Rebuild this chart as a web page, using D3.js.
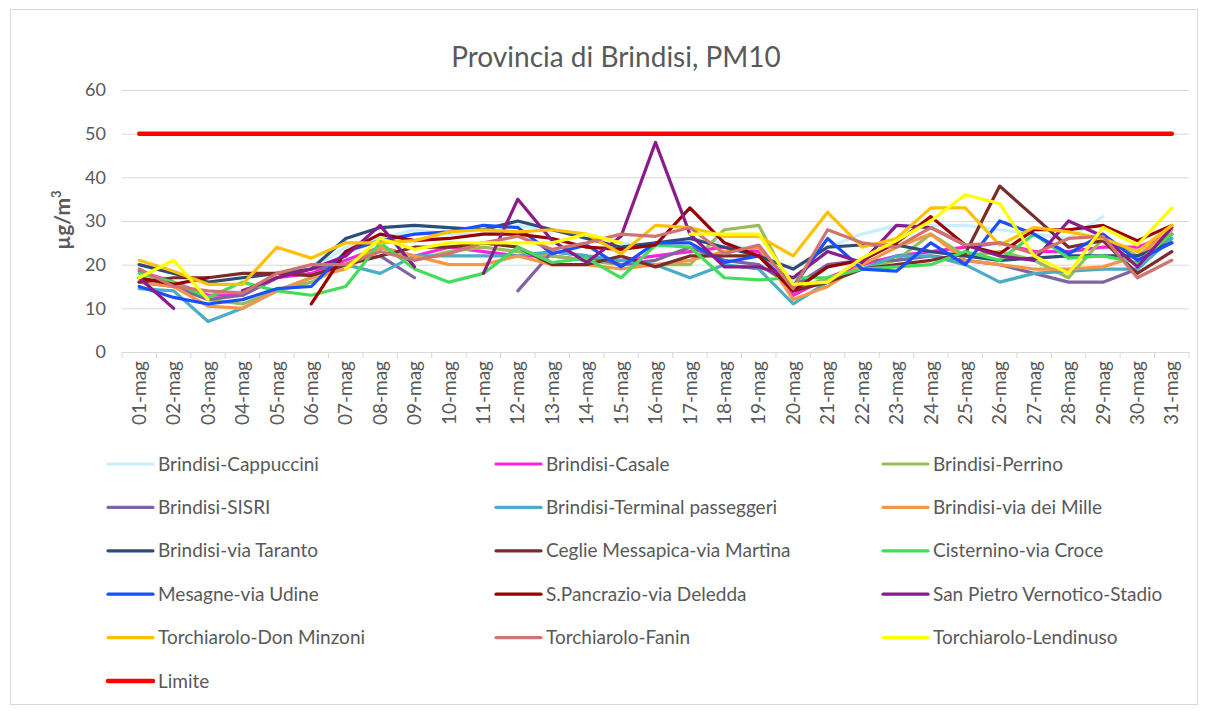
<!DOCTYPE html>
<html>
<head>
<meta charset="utf-8">
<script src="https://cdn.jsdelivr.net/npm/d3@7"></script>
<style>
  body { margin: 0; background: #fff; }
  text { font-family: Lato, 'Open Sans', sans-serif; fill: #595959; }
</style>
</head>
<body>
<div id="chart"></div>
<script>
var days = []
for (var k = 1; k <= 31; k++) days.push((k < 10 ? '0' + k : '' + k) + '-mag')

var seriesNames = [
  'Brindisi-Cappuccini', 'Brindisi-Casale', 'Brindisi-Perrino',
  'Brindisi-SISRI', 'Brindisi-Terminal passeggeri', 'Brindisi-via dei Mille',
  'Brindisi-via Taranto', 'Ceglie Messapica-via Martina', 'Cisternino-via Croce',
  'Mesagne-via Udine', 'S.Pancrazio-via Deledda', 'San Pietro Vernotico-Stadio',
  'Torchiarolo-Don Minzoni', 'Torchiarolo-Fanin', 'Torchiarolo-Lendinuso', 'Limite'
]
var seriesColors = [
  '#c9efff', '#ff22dd', '#9bbb59',
  '#8064a2', '#4bacc6', '#f79646',
  '#2c4d7a', '#7b2c2a', '#44dd5a',
  '#1a4fff', '#990000', '#8b1a8b',
  '#ffc000', '#d07470', '#ffff00', '#ff0000'
]

var cappuccini = [17, 15, 13, 14, 17, 19, 24, 26, 28, 27, 27, 29, 28, 27, 25, 24, 26, 25, 23, 16, 24, 27, 29, 29, 29, 28, 27, 26, 31, null, null]
var casale = [18.5, 16, 13, 13, 17, 18, 21, 24, 22, 24, 23, 22, 22, 21, 21, 22, 23, 24, 23, 13, 17, 20, 22, 23, 24, 25, 23, 23, 24, 24, 27]
var perrino = [16, 15, 12, 11, 14, 16, 20, 24, 21, 23, 24, 23, 22, 21, 20, 20, 20, 28, 29, 14, 17, 19, 21, 27, 22, 23, 21, 17, 26, 22, 26]
var sisri = [16, 15, 12, 13, 17, 19, 20, 22, 17, null, null, 14, 23, 22, 20, 21, 24, 21, 20, 15, 20, 21, 21, 22, 21, 20, 18, 16, 16, 19, 27]
var terminal = [14.5, 14, 7, 10, 14, 17, 20, 18, 22, 22, 22, 22, 23, 22, 21, 20, 17, 20, 19, 11, 16, 19, 22, 22, 20, 16, 18, 18.5, 19, 19, 26]
var viaMille = [16, 15, 10.5, 10, 14, 17, 19, 24, 22, 20, 20, 22, 20, 20, 19, 20, 21, 23, 24, 12, 15, 20, 24, 27, 21, 20, 19, 19, 19.5, 22, 28]
var viaTaranto = [20, 18, 16, 17, 18, 19, 26, 28.5, 29, 28.5, 28, 30, 28, 26, 24, 25, 26, 24, 22, 19, 24, 24.5, 24.5, 23, 22, 21, 21.5, 22, 22, 22, 25]
var ceglie = [16, 17, 17, 18, 18, 17.5, 20, 22, 24, 24, 25, 24, 20, 20, 22, 19.5, 22, 22, 22, 14, 16, 19, 20, 21, 22.5, 38, 31, 24, 25.5, 18, 23]
var cisternino = [18, 16, 12.5, 16, 14, 13, 15, 25, 19, 16, 18, 24, 20.5, 21.5, 17, 24.5, 24, 17, 16.5, 17, 17, 19, 19.5, 20, 23, 21, 27, 21.5, 22, 20.5, 27]
var mesagne = [15, 12.5, 11, 12, 14.5, 15, 23, 25.5, 27, 27.5, 29, 28.5, 22.5, 24.5, 19.5, 25, 25, 20.5, 22, 15, 26, 19, 18.5, 25, 20, 30, 27, 22.5, 27, 21, 25]
var pancrazio = [17, 15.5, 17, null, null, 11, 23, 27, 25.5, 26, 27, 27, 26, 24, 23.5, 24.5, 33, 25, 22, 14, 19.5, 21, 25, 31, 24.5, 22.5, 28, 28, 29, 25.5, 29]
var sanPietro = [17, 10, null, 14, 17, 19, 22, 29, 19.5, null, 18, 35, 25.5, 20.5, 26.5, 48, 27, 19.5, 19.5, 17, 23, 20.5, 29, 28.5, 24.5, 22, 21, 30, 26.5, 19.5, 28.5]
var donMinzoni = [21, 18.5, 15.5, 15.5, 24, 21.5, 25, 25, 25.5, 27.5, 28, 27.5, 28, 27, 22.5, 29, 28.5, 26.5, 26.5, 22, 32, 24, 26, 33, 33, 24.5, 28.5, 27.5, 26, 23, 29]
var fanin = [19, 15, 14, 13.5, 18, 20, 20, 23, 21, 22.5, 25, 26.5, 23.5, 25, 27, 26.5, 28.5, 22.5, 24.5, 14.5, 28, 25, 24, 28.5, 24.5, 25, 22.5, 26, 26.5, 17, 21]
var lendinuso = [17, 21, 12, null, null, null, 19, 26, 23.5, 25, 25, 25, 25, 27, 25, null, 27, 27, 27, 15.5, 16, 21.5, 25.5, 30, 36, 34, 22, 18, 28.5, 24.5, 33]
var limite = days.map(function () { return 50 })

var seriesValues = [cappuccini, casale, perrino, sisri, terminal, viaMille, viaTaranto,
  ceglie, cisternino, mesagne, pancrazio, sanPietro, donMinzoni, fanin, lendinuso, limite]
var yTicks = [0, 10, 20, 30, 40, 50, 60]

var width = 1208
var height = 713
var plot = { left: 122, right: 1189, top: 90, bottom: 352 }

var svg = d3.select('#chart').append('svg')
  .attr('width', width)
  .attr('height', height)

svg.append('rect')
  .attr('x', 10.5).attr('y', 9.5)
  .attr('width', 1187).attr('height', 695)
  .attr('fill', '#fff')
  .attr('stroke', '#d9d9d9')

var x = d3.scaleBand().domain(days).range([plot.left, plot.right])
var y = d3.scaleLinear().domain([0, 60]).range([plot.bottom, plot.top])
var cx = function (d) { return x(d) + x.bandwidth() / 2 }

// title
svg.append('text')
  .attr('x', 616).attr('y', 67)
  .attr('text-anchor', 'middle')
  .attr('font-size', '28px')
  .text('Provincia di Brindisi, PM10')

// y axis with gridlines
var yAxis = svg.append('g')
  .attr('transform', 'translate(' + plot.left + ',0)')
  .call(d3.axisLeft(y).tickValues(yTicks).tickSize(-(plot.right - plot.left)).tickPadding(16))
yAxis.select('.domain').remove()
yAxis.selectAll('line').attr('stroke', '#d9d9d9')
yAxis.selectAll('text').attr('font-size', '18px').style('font-family', 'Lato, sans-serif').attr('fill', '#595959')

// y title
svg.append('text')
  .attr('transform', 'translate(70,220) rotate(-90)')
  .attr('text-anchor', 'middle')
  .attr('font-size', '21px')
  .attr('font-weight', 'bold')
  .html('µg/m<tspan dy="-9" font-size="13px">3</tspan>')

// x axis
var xAxis = svg.append('g')
  .attr('transform', 'translate(0,' + plot.bottom + ')')
  .call(d3.axisBottom(x).tickSize(0).tickPadding(0))
xAxis.select('.domain').attr('stroke', '#d9d9d9')
xAxis.selectAll('text')
  .attr('font-size', '19px')
  .style('font-family', 'Lato, sans-serif')
  .attr('fill', '#595959')
  .attr('text-anchor', 'end')
  .attr('transform', 'rotate(-90)')
  .attr('x', -9)
  .attr('y', 0)
  .attr('dy', '0.35em')

var edges = days.map(function (d) { return x(d) }).concat([plot.right])
svg.append('g').selectAll('line')
  .data(edges)
  .enter()
  .append('line')
  .attr('x1', function (d) { return d }).attr('x2', function (d) { return d })
  .attr('y1', plot.bottom).attr('y2', plot.bottom + 6)
  .attr('stroke', '#d9d9d9')

// lines
var line = d3.line()
  .defined(function (d) { return d.v !== null })
  .x(function (d) { return cx(d.day) })
  .y(function (d) { return y(d.v) })

seriesValues.forEach(function (vals, i) {
  var pts = vals.map(function (v, j) { return { day: days[j], v: v } })
  svg.append('path')
    .datum(pts)
    .attr('d', line)
    .attr('fill', 'none')
    .attr('stroke', seriesColors[i])
    .attr('stroke-width', i === 15 ? 4.5 : 3.2)
    .attr('stroke-linejoin', 'round')
    .attr('stroke-linecap', 'round')
})

// legend
var legendCols = [108, 496, 883]
var legend = svg.append('g').selectAll('g')
  .data(seriesNames)
  .enter()
  .append('g')
  .attr('transform', function (d, i) {
    return 'translate(' + legendCols[i % 3] + ',' + (464 + Math.floor(i / 3) * 43.4) + ')'
  })
legend.append('line')
  .attr('x1', 0).attr('x2', 45)
  .attr('stroke', function (d, i) { return seriesColors[i] })
  .attr('stroke-width', function (d, i) { return i === 15 ? 4.5 : 3.2 })
  .attr('stroke-linecap', 'round')
legend.append('text')
  .attr('x', 50)
  .attr('dy', '0.35em')
  .attr('font-size', '19px')
  .text(function (d) { return d })
</script>
</body>
</html>
